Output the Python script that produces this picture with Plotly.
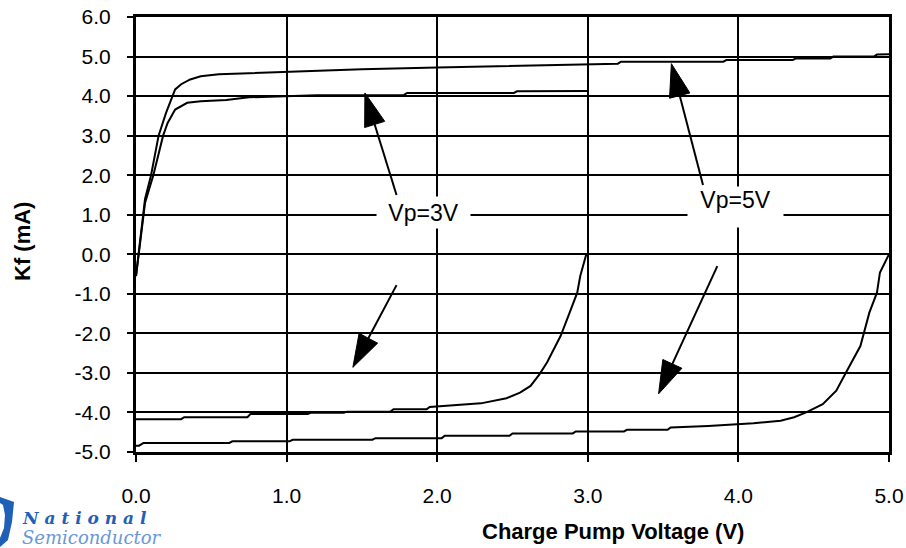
import math
import plotly.graph_objects as go

# ---------------- data ----------------
x_vp5_pos = [0.0, 0.03, 0.06, 0.10, 0.15, 0.20, 0.26, 0.30, 0.36, 0.43, 0.55, 0.70, 0.90,
             1.0, 1.29, 1.5, 2.0, 2.5, 3.0, 3.2, 3.22, 3.9, 3.92, 4.36, 4.38, 4.61, 4.63, 4.9, 4.92, 5.0]
y_vp5_pos = [-0.55, 0.45, 1.4, 2.0, 3.0, 3.58, 4.17, 4.3, 4.42, 4.5, 4.55, 4.57, 4.6,
             4.62, 4.65, 4.68, 4.72, 4.76, 4.8, 4.82, 4.87, 4.87, 4.91, 4.91, 4.95, 4.95, 5.0, 5.0, 5.05, 5.06]

x_vp3_pos = [0.0, 0.03, 0.06, 0.115, 0.18, 0.21, 0.26, 0.34, 0.43, 0.60, 0.75, 1.2, 1.78, 1.8,
             2.51, 2.53, 3.0]
y_vp3_pos = [-0.55, 0.4, 1.3, 2.0, 3.0, 3.32, 3.66, 3.83, 3.87, 3.9, 3.97, 4.02, 4.03, 4.08,
             4.08, 4.12, 4.13]

x_vp3_neg = [0.0, 0.30, 0.32, 0.74, 0.76, 1.14, 1.16, 1.38, 1.40, 1.69, 1.71, 1.93, 1.95, 2.11,
             2.29, 2.46, 2.55, 2.62, 2.68, 2.73, 2.82, 2.88, 2.93, 2.95, 2.99]
y_vp3_neg = [-4.17, -4.17, -4.12, -4.12, -4.04, -4.04, -4.01, -4.01, -3.98, -3.98, -3.92, -3.92, -3.86, -3.82,
             -3.77, -3.64, -3.5, -3.33, -3.03, -2.73, -2.06, -1.47, -0.97, -0.55, 0.0]

x_vp5_neg = [0.0, 0.02, 0.05, 0.62, 0.64, 1.02, 1.04, 1.57, 1.59, 2.03, 2.05, 2.48, 2.50, 2.90, 2.92,
             3.24, 3.26, 3.53, 3.55, 3.80, 4.10, 4.28, 4.37, 4.45, 4.56, 4.65, 4.72, 4.81, 4.87,
             4.92, 4.94, 5.0]
y_vp5_neg = [-4.84, -4.84, -4.77, -4.77, -4.73, -4.73, -4.69, -4.69, -4.65, -4.65, -4.59, -4.59, -4.53, -4.53, -4.48,
             -4.48, -4.44, -4.44, -4.38, -4.34, -4.27, -4.21, -4.12, -4.0, -3.79, -3.45, -2.95, -2.32, -1.47,
             -0.97, -0.46, 0.0]

x_tick_vals = [0, 1, 2, 3, 4, 5]
x_tick_labels = ["0.0", "1.0", "2.0", "3.0", "4.0", "5.0"]
y_tick_vals = [-5, -4, -3, -2, -1, 0, 1, 2, 3, 4, 5, 6]
y_tick_labels = ["-5.0", "-4.0", "-3.0", "-2.0", "-1.0", "0.0", "1.0", "2.0", "3.0", "4.0", "5.0", "6.0"]

label_texts = ["Vp=3V", "Vp=5V"]
label_x = [1.91, 3.98]
label_y = [1.05, 1.19]

arrow_tail_x = [1.73, 1.73, 3.765, 3.86]
arrow_tail_y = [1.50, -0.78, 1.75, -0.30]
arrow_tip_x = [1.52, 1.44, 3.555, 3.47]
arrow_tip_y = [4.08, -2.86, 4.82, -3.53]

# ---------------- layout constants ----------------
W, H = 906, 548
ML, MR, MT, MB = 136, 17, 17, 96
X_RANGE = [0, 5]
Y_RANGE = [-5, 6]
SX = (W - ML - MR) / (X_RANGE[1] - X_RANGE[0])
SY = (H - MT - MB) / (Y_RANGE[1] - Y_RANGE[0])
FONT = "Liberation Sans, Arial, sans-serif"

fig = go.Figure()

for xs, ys, name in [(x_vp5_pos, y_vp5_pos, "Vp=5V +"), (x_vp3_pos, y_vp3_pos, "Vp=3V +"),
                     (x_vp3_neg, y_vp3_neg, "Vp=3V -"), (x_vp5_neg, y_vp5_neg, "Vp=5V -")]:
    fig.add_trace(go.Scatter(x=xs, y=ys, mode="lines", name=name,
                             line=dict(color="black", width=2), hoverinfo="skip"))

# arrows: shaft + filled head computed from tail/tip
HEAD_LEN, HEAD_HALF = 33, 10.5
for tx, ty, hx, hy in zip(arrow_tail_x, arrow_tail_y, arrow_tip_x, arrow_tip_y):
    dx = (hx - tx) * SX
    dy = (hy - ty) * SY
    L = math.hypot(dx, dy)
    ux, uy = dx / L, dy / L
    bx, by = -ux * HEAD_LEN, -uy * HEAD_LEN
    nx, ny = -uy * HEAD_HALF, ux * HEAD_HALF
    base_x = hx + bx / SX
    base_y = hy + by / SY
    c1x, c1y = base_x + nx / SX, base_y + ny / SY
    c2x, c2y = base_x - nx / SX, base_y - ny / SY
    fig.add_trace(go.Scatter(x=[tx, base_x], y=[ty, base_y], mode="lines",
                             line=dict(color="black", width=2), hoverinfo="skip", showlegend=False))
    fig.add_trace(go.Scatter(x=[hx, c1x, c2x, hx], y=[hy, c1y, c2y, hy], mode="lines",
                             fill="toself", fillcolor="black",
                             line=dict(color="black", width=1), hoverinfo="skip", showlegend=False))

annotations = []
for txt, lx, ly, w, h, va in zip(label_texts, label_x, label_y, [93, 95], [31, 40], ["middle", "top"]):
    annotations.append(dict(x=lx, y=ly, xref="x", yref="y", text=txt, showarrow=False,
                            bgcolor="white", width=w, height=h, valign=va, borderpad=0,
                            font=dict(family=FONT, size=23, color="black")))

def px(xp):
    return (xp - ML) / (W - ML - MR)

def py(yp):
    return (H - MB - yp) / (H - MT - MB)

annotations.append(dict(x=px(613), y=py(531), xref="paper", yref="paper",
                        text="Charge Pump Voltage (V)", showarrow=False,
                        xanchor="center", yanchor="middle",
                        font=dict(family=FONT, size=22, color="black", weight="bold")))
annotations.append(dict(x=px(23), y=py(242), xref="paper", yref="paper",
                        text="Kf (mA)", showarrow=False, textangle=-90,
                        xanchor="center", yanchor="middle",
                        font=dict(family=FONT, size=22, color="black", weight="bold")))
annotations.append(dict(x=px(20), y=py(518), xref="paper", yref="paper",
                        text="N a t i o n a l", showarrow=False, xanchor="left", yanchor="middle",
                        font=dict(family="DejaVu Serif, serif", size=17, color="#1F5FB8",
                                  weight="bold", style="italic")))
annotations.append(dict(x=px(20), y=py(537), xref="paper", yref="paper",
                        text="Semiconductor", showarrow=False, xanchor="left", yanchor="middle",
                        font=dict(family="DejaVu Serif, serif", size=18, color="#6A97D8",
                                  style="italic")))

# logo swoosh
pts = [(0, 497), (14, 502), (12, 522), (8, 540), (0, 547), (0, 538), (4, 528), (5, 515), (3, 505), (0, 503)]
path = "M " + " L ".join(f"{px(a):.4f},{py(b):.4f}" for a, b in pts) + " Z"
shapes = [dict(type="path", path=path, xref="paper", yref="paper",
               fillcolor="#1F5FB8", line=dict(width=0))]

axis_common = dict(showline=True, linecolor="black", linewidth=3, mirror=True,
                   showgrid=True, gridcolor="black", gridwidth=2, zeroline=False,
                   ticks="outside", tickcolor="black", tickwidth=2, automargin=False,
                   tickfont=dict(family=FONT, size=21, color="black"))

fig.update_layout(
    width=W, height=H,
    margin=dict(l=ML, r=MR, t=MT, b=MB, autoexpand=False),
    paper_bgcolor="white", plot_bgcolor="white",
    showlegend=False,
    hovermode=False,
    xaxis=dict(range=X_RANGE, tickvals=x_tick_vals, ticktext=x_tick_labels,
               ticklen=7, ticklabelstandoff=16, **axis_common),
    yaxis=dict(range=Y_RANGE, tickvals=y_tick_vals, ticktext=y_tick_labels,
               ticklen=6, ticklabelstandoff=12, **axis_common),
    annotations=annotations,
    shapes=shapes,
)

fig.write_html("out.html", config={"displayModeBar": False, "staticPlot": True},
               post_script="document.body.style.margin='0';document.body.style.overflow='hidden';")
